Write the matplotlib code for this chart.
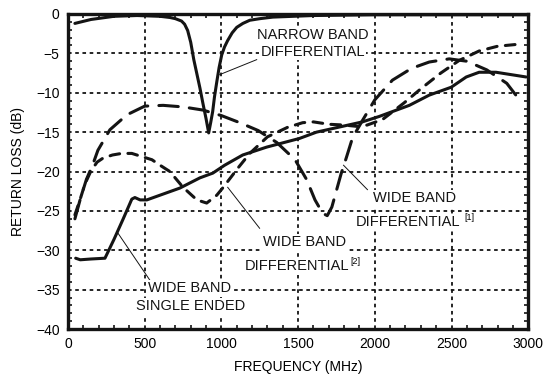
import matplotlib
matplotlib.use("Agg")
import matplotlib.pyplot as plt
from matplotlib.ticker import MultipleLocator

plt.rcParams['font.family'] = ['Liberation Sans', 'DejaVu Sans']
plt.rcParams['lines.scale_dashes'] = False

# Narrow band differential (solid)
nb_freq = [45, 150, 300, 450, 600, 665, 700, 740, 760, 780, 800, 820, 840, 860,
           880, 900, 917, 930, 943, 955, 970, 985, 1002, 1020, 1040, 1070, 1100,
           1140, 1185, 1250, 1335, 1600, 2000, 2500, 3000]
nb_rl = [-1.2, -0.7, -0.3, -0.2, -0.3, -0.45, -0.6, -0.9, -1.3, -2.1, -3.6, -5.8,
         -7.6, -9.4, -11.4, -13.3, -15.1, -13.8, -12.4, -10.5, -8.6, -6.8, -5.2,
         -4.2, -3.4, -2.4, -1.7, -1.2, -0.8, -0.6, -0.4, -0.2, -0.1, -0.1, -0.1]

# Wide band single ended (solid)
se_freq = [50, 80, 150, 241, 300, 360, 416, 436, 470, 514, 600, 729, 860, 944,
           1021, 1139, 1295, 1509, 1620, 1919, 2030, 2225, 2355, 2498, 2596,
           2680, 2790, 2986]
se_rl = [-31.0, -31.2, -31.1, -31.0, -28.6, -26.0, -23.5, -23.3, -23.6, -23.6,
         -23.0, -22.1, -20.8, -20.2, -19.2, -17.9, -16.9, -15.8, -15.0, -13.7,
         -13.0, -11.6, -10.3, -9.3, -8.0, -7.4, -7.4, -8.0]

# Wide band differential [1] (long dash)
wd1_freq = [45, 80, 120, 160, 195, 273, 384, 500, 620, 750, 880, 1000, 1120,
            1240, 1360, 1480, 1555, 1610, 1660, 1690, 1720, 1750, 1780, 1815,
            1855, 1920, 2000, 2115, 2240, 2355, 2485, 2600, 2730, 2860, 2955]
wd1_rl = [-26.0, -23.5, -21.0, -19.2, -17.3, -14.7, -12.8, -11.7, -11.6, -11.8,
          -12.2, -12.9, -13.8, -14.8, -16.3, -18.5, -21.0, -23.6, -25.3, -25.6,
          -24.5, -22.4, -20.3, -18.2, -15.7, -13.5, -10.9, -8.4, -6.9, -6.1,
          -5.7, -6.0, -7.1, -8.8, -11.2]

# Wide band differential [2] (medium dash)
wd2_freq = [45, 78, 110, 150, 190, 228, 290, 350, 416, 481, 547, 600, 664, 750,
            840, 904, 970, 1008, 1067, 1106, 1185, 1300, 1430, 1530, 1600, 1700,
            1800, 1900, 1950, 2050, 2190, 2300, 2430, 2550, 2680, 2800, 2960]
wd2_rl = [-25.5, -23.6, -21.6, -19.9, -18.8, -18.3, -17.9, -17.7, -17.7, -18.1,
          -18.5, -19.2, -20.0, -22.0, -23.6, -24.0, -23.0, -22.1, -20.6, -19.6,
          -17.7, -15.6, -14.4, -13.8, -13.7, -14.0, -14.1, -14.3, -14.1, -13.4,
          -11.3, -9.5, -7.5, -5.9, -4.7, -4.1, -3.8]

ink = '#141414'

fig = plt.figure(figsize=(5.44, 3.77), dpi=100)
ax = fig.add_axes([0.125, 0.127, 0.846, 0.836])

ax.plot(nb_freq, nb_rl, color=ink, lw=2.2, solid_capstyle='round')
ax.plot(se_freq, se_rl, color=ink, lw=2.2, solid_capstyle='round')
ax.plot(wd1_freq, wd1_rl, color=ink, lw=2.2, dashes=(14, 8),
        dash_capstyle='round')
ax.plot(wd2_freq, wd2_rl, color=ink, lw=2.2, dashes=(7, 6),
        dash_capstyle='round')

ax.set_xlim(0, 3000)
ax.set_ylim(-40, 0)
ax.xaxis.set_major_locator(MultipleLocator(500))
ax.xaxis.set_minor_locator(MultipleLocator(100))
ax.yaxis.set_major_locator(MultipleLocator(5))
ax.yaxis.set_minor_locator(MultipleLocator(1))
ax.tick_params(which='both', direction='in', top=True, right=True,
               color=ink, width=1.2)
ax.tick_params(which='major', length=0, labelsize=10, pad=6)
ax.tick_params(which='minor', length=3)
ax.grid(True, which='major', color=ink, lw=1.3, dashes=(2.6, 2.6))

for s in ax.spines.values():
    s.set_linewidth(2.4)
    s.set_color(ink)

ax.set_xlabel('FREQUENCY (MHz)', fontsize=10, labelpad=6)
ax.set_ylabel('RETURN LOSS (dB)', fontsize=10, labelpad=8)

fs = 10.5
txt = dict(fontsize=fs, ha='center', va='center', color=ink)
white = dict(facecolor='white', edgecolor='none', pad=1)

ax.text(1594, -2.7, 'NARROW BAND', bbox=white, **txt)
ax.text(1594, -4.8, 'DIFFERENTIAL', bbox=white, **txt)
ax.plot([989, 1230], [-7.7, -5.8], color=ink, lw=0.7)

ax.text(2258, -23.4, 'WIDE BAND', bbox=white, **txt)
ax.text(2214, -26.4, 'DIFFERENTIAL', bbox=white, **txt)
ax.text(2620, -25.8, '[1]', fontsize=6.5, ha='center', va='center')
ax.plot([1796, 1952], [-19.2, -22.3], color=ink, lw=0.7)

ax.text(1542, -29.0, 'WIDE BAND', bbox=white, **txt)
ax.text(1490, -32.0, 'DIFFERENTIAL', bbox=white, **txt)
ax.text(1875, -31.4, '[2]', fontsize=6.5, ha='center', va='center')
ax.plot([1041, 1249], [-22.0, -27.2], color=ink, lw=0.7)

ax.text(794, -34.8, 'WIDE BAND', bbox=white, **txt)
ax.text(797, -37.1, 'SINGLE ENDED', bbox=white, **txt)
ax.plot([325, 534], [-27.8, -33.8], color=ink, lw=0.7)

fig.savefig('out.png', dpi=100)
